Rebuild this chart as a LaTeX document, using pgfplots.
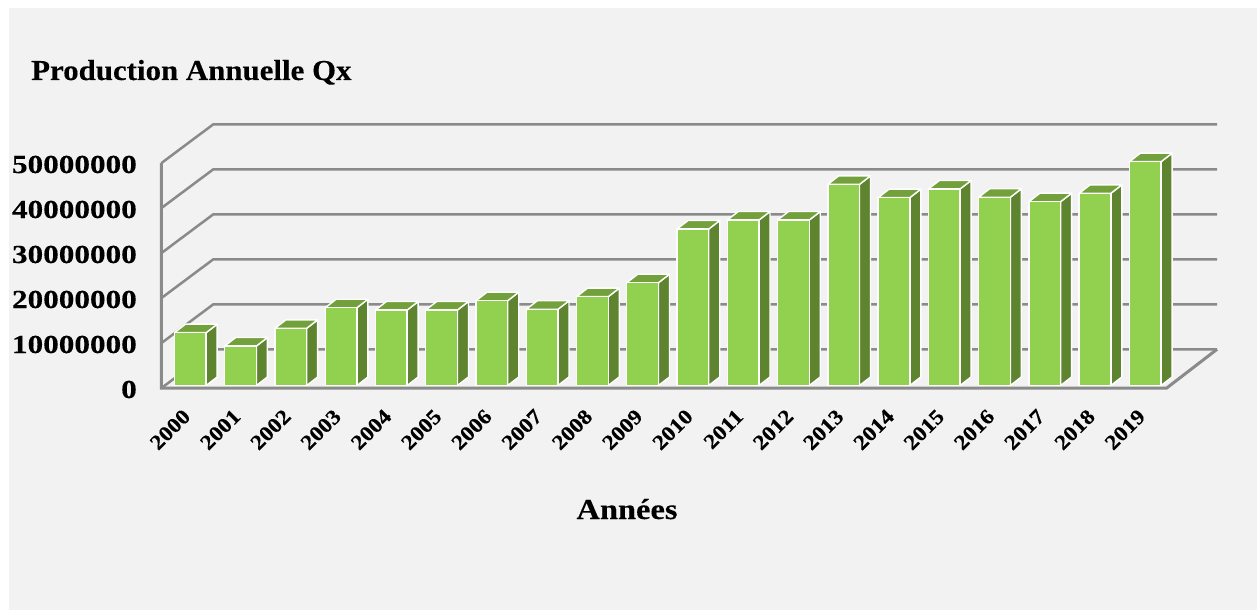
\documentclass[border=0pt]{standalone}
\usepackage{pgfplots}
\pgfplotsset{compat=1.18}
\usepackage{fontspec}
\setmainfont{Liberation Serif}
\newfontfamily\tickf{Liberation Serif}[FakeStretch=1.2,FakeBold=0.25]
\newfontfamily\yearf{Liberation Serif}[FakeStretch=1.12,FakeBold=0.25]
\newfontfamily\titlef{Liberation Serif}[FakeStretch=1.065,FakeBold=0.2]
\newfontfamily\xlabf{Liberation Serif}[FakeStretch=1.12,FakeBold=0.2]
\definecolor{bgc}{HTML}{F2F2F2}
\definecolor{gridc}{HTML}{8A8A8A}
\definecolor{frontc}{HTML}{92D050}
\definecolor{sidec}{HTML}{5E8430}
\definecolor{topc}{HTML}{72A03A}
\newcommand{\threedbar}[2]{%
  \pgfmathsetmacro\xa{#1-0.3154}%
  \pgfmathsetmacro\xb{#1+0.3154}%
  \pgfmathsetmacro\xc{#1+0.5343}%
  \pgfmathsetmacro\xd{#1-0.0965}%
  \pgfmathsetmacro\yt{#2+1.889}%
  \edef\temp{%
    \noexpand\addplot[no marks,fill=sidec,draw=white,line width=1.4pt,line join=round] coordinates {(\xb,0.56)(\xc,2.449)(\xc,\yt)(\xb,#2)} --cycle;
    \noexpand\addplot[no marks,fill=topc,draw=white,line width=1.4pt,line join=round] coordinates {(\xa,#2)(\xb,#2)(\xc,\yt)(\xd,\yt)} --cycle;
    \noexpand\addplot[no marks,fill=frontc,draw=white,line width=1.4pt,line join=round] coordinates {(\xa,0.56)(\xb,0.56)(\xb,#2)(\xa,#2)} --cycle;
  }\temp}
\newcommand{\level}[2]{\addplot[no marks,draw=gridc,line width=2.5pt,line join=miter] coordinates {(1999.427,#1)(2000.458,#2)(2020.428,#2)};}
\begin{document}
\begin{tikzpicture}
\fill[white] (-161.5pt,-222pt) rectangle (1095.5pt,388pt);
\fill[bgc] (-152.5pt,-222pt) rectangle (1095.5pt,380pt);
\begin{axis}[
  at={(0pt,0pt)},anchor=south west,
  scale only axis,width=1055.5pt,height=263.7pt,
  xmin=1999.427,xmax=2020.428,ymin=0,ymax=58.6,
  clip=false,
  axis line style={draw=none},
  major tick length=0pt,
  tick style={draw=none},
  xtick={2000,2001,2002,2003,2004,2005,2006,2007,2008,2009,2010,2011,2012,2013,2014,2015,2016,2017,2018,2019},
  xticklabels={2000,2001,2002,2003,2004,2005,2006,2007,2008,2009,2010,2011,2012,2013,2014,2015,2016,2017,2018,2019},
  xticklabel style={rotate=45,anchor=north east,inner sep=0pt,xshift=-20pt,yshift=-7.8pt,
    font=\fontsize{21}{24}\selectfont\bfseries\yearf},
  ytick={0,10,20,30,40,50},
  yticklabels={0,10000000,20000000,30000000,40000000,50000000},
  yticklabel style={anchor=east,inner sep=0pt,xshift=-24.5pt,yshift=-1.5pt,
    font=\fontsize{26}{30}\selectfont\bfseries\tickf},
]
\level{0}{8.6}
\level{10}{18.6}
\level{20}{28.6}
\level{30}{38.6}
\level{40}{48.6}
\level{50}{58.6}
\addplot[no marks,draw=gridc,line width=3pt] coordinates {(1999.427,50)(1999.427,0)(2019.427,0)(2020.428,8.6)};
\threedbar{2000}{12.29}
\threedbar{2001}{9.33}
\threedbar{2002}{13.26}
\threedbar{2003}{17.84}
\threedbar{2004}{17.33}
\threedbar{2005}{17.33}
\threedbar{2006}{19.40}
\threedbar{2007}{17.49}
\threedbar{2008}{20.29}
\threedbar{2009}{23.40}
\threedbar{2010}{35.33}
\threedbar{2011}{37.33}
\threedbar{2012}{37.33}
\threedbar{2013}{45.26}
\threedbar{2014}{42.29}
\threedbar{2015}{44.22}
\threedbar{2016}{42.38}
\threedbar{2017}{41.40}
\threedbar{2018}{43.26}
\threedbar{2019}{50.29}
\end{axis}
\node[anchor=base west,inner sep=0pt,font=\fontsize{29}{32}\selectfont\bfseries\titlef] at (-130.5pt,308pt) {Production Annuelle Qx};
\node[anchor=base,inner sep=0pt,font=\fontsize{29}{32}\selectfont\bfseries\xlabf] at (465.5pt,-131pt) {Années};
\end{tikzpicture}
\end{document}
